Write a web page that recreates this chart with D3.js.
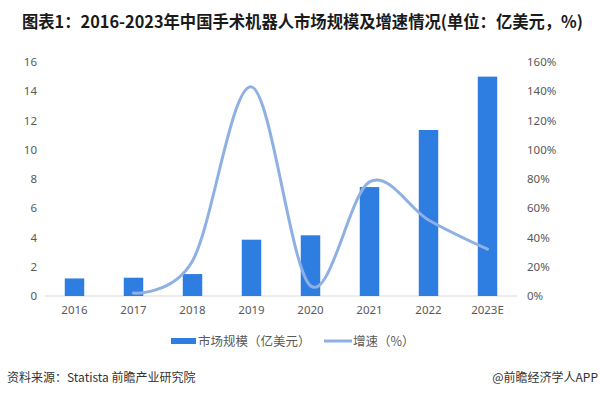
<!DOCTYPE html>
<html>
<head>
<meta charset="utf-8">
<script src="https://cdn.jsdelivr.net/npm/d3@7"></script>
<style>
  body { margin: 0; background: #fff; }
  svg { display: block; font-family: "Noto Sans CJK SC", "Noto Sans", sans-serif; }
</style>
</head>
<body>
<div id="chart"></div>
<script>
const years = ["2016", "2017", "2018", "2019", "2020", "2021", "2022", "2023E"];
const marketSize = [1.2, 1.25, 1.5, 3.85, 4.15, 7.45, 11.35, 15.0];
// growth starts at 2017
const growthYears = ["2017", "2018", "2019", "2020", "2021", "2022", "2023E"];
const growth = [2, 24, 143, 7, 78, 52, 32];
const leftTicks = [0, 2, 4, 6, 8, 10, 12, 14, 16];
const rightTicks = [0, 20, 40, 60, 80, 100, 120, 140, 160];

const width = 602, height = 395;
const margins = {top: 62, left: 45, right: 85, bottom: 99};
const barColor = "#2e7de1", lineColor = "#8fb0e3", tickColor = "#595959";

const svg = d3.select("#chart").append("svg")
    .attr("width", width)
    .attr("height", height);

const x = d3.scaleBand().domain(years)
    .range([margins.left, width - margins.right])
    .paddingInner(0.67).paddingOuter(0.335);
const yL = d3.scaleLinear().domain([0, 16]).range([height - margins.bottom, margins.top]);
const yR = d3.scaleLinear().domain([0, 160]).range([height - margins.bottom, margins.top]);

// title
svg.append("text")
    .attr("x", 22).attr("y", 28)
    .attr("font-size", 16.5).attr("font-weight", "bold").attr("fill", "#1a1a1a")
    .attr("textLength", 561).attr("lengthAdjust", "spacingAndGlyphs")
    .text("图表1：2016-2023年中国手术机器人市场规模及增速情况(单位：亿美元，%)");

// baseline
svg.append("line")
    .attr("x1", margins.left).attr("x2", width - margins.right)
    .attr("y1", yL(0)).attr("y2", yL(0))
    .attr("stroke", "#d9d9d9").attr("stroke-width", 1);

// left axis
const axisL = svg.append("g")
    .attr("transform", `translate(${margins.left - 8},0)`)
    .call(d3.axisLeft(yL).tickValues(leftTicks).tickSize(0).tickPadding(0));
axisL.select(".domain").remove();
axisL.selectAll("text").attr("font-size", 11.5).attr("fill", tickColor)
    .attr("font-family", "Noto Sans, sans-serif");

// right axis
const axisR = svg.append("g")
    .attr("transform", `translate(${width - margins.right + 10},0)`)
    .call(d3.axisRight(yR).tickValues(rightTicks).tickFormat(d => d + "%").tickSize(0).tickPadding(0));
axisR.select(".domain").remove();
axisR.selectAll("text").attr("font-size", 11.5).attr("fill", tickColor)
    .attr("font-family", "Noto Sans, sans-serif");

// x axis
const axisX = svg.append("g")
    .attr("transform", `translate(0,${yL(0) + 10})`)
    .call(d3.axisBottom(x).tickSize(0).tickPadding(0));
axisX.select(".domain").remove();
axisX.selectAll("text").attr("font-size", 11.5).attr("fill", tickColor)
    .attr("font-family", "Noto Sans, sans-serif");

// bars
svg.append("g").selectAll("rect")
    .data(marketSize)
    .join("rect")
    .attr("x", (d, i) => x(years[i]))
    .attr("y", d => yL(d))
    .attr("width", x.bandwidth())
    .attr("height", d => yL(0) - yL(d))
    .attr("fill", barColor);

// growth line
const line = d3.line()
    .x((d, i) => x(growthYears[i]) + x.bandwidth() / 2)
    .y(d => yR(d))
    .curve(d3.curveCatmullRom.alpha(0));
svg.append("path")
    .datum(growth)
    .attr("d", line)
    .attr("fill", "none")
    .attr("stroke", lineColor)
    .attr("stroke-width", 3)
    .attr("stroke-linecap", "round");

// legend
const lg = svg.append("g").attr("transform", "translate(0,341)");
lg.append("rect").attr("x", 171).attr("y", -3).attr("width", 25).attr("height", 6).attr("fill", barColor);
lg.append("text").attr("x", 198).attr("y", 4.5).attr("font-size", 12.5).attr("fill", tickColor)
    .text("市场规模（亿美元）");
lg.append("line").attr("x1", 324).attr("x2", 352).attr("y1", 0).attr("y2", 0)
    .attr("stroke", lineColor).attr("stroke-width", 3);
lg.append("text").attr("x", 353).attr("y", 4.5).attr("font-size", 12.5).attr("fill", tickColor)
    .text("增速（%）");

// footer
svg.append("text").attr("x", 7).attr("y", 382).attr("font-size", 12).attr("fill", "#333")
    .text("资料来源：Statista 前瞻产业研究院");
svg.append("text").attr("x", 598).attr("y", 382).attr("font-size", 12).attr("fill", "#333")
    .attr("text-anchor", "end")
    .text("@前瞻经济学人APP");
</script>
</body>
</html>
